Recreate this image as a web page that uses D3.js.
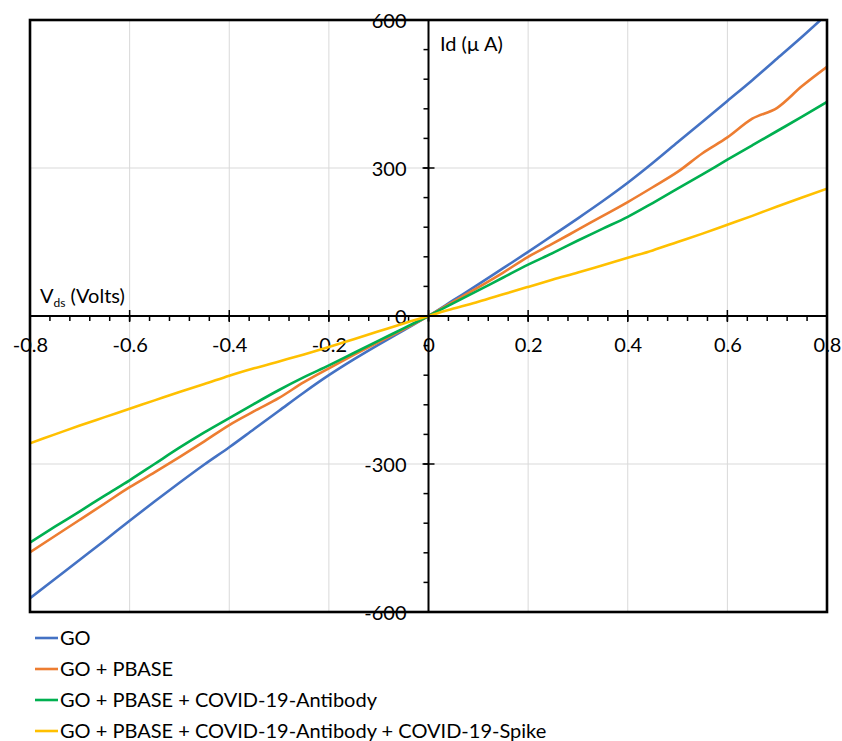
<!DOCTYPE html>
<html>
<head>
<meta charset="utf-8">
<script src="https://cdn.jsdelivr.net/npm/d3@7"></script>
<style>
  body { margin: 0; background: #fff; }
  svg { display: block; font-family: Lato, "Open Sans", sans-serif; }
</style>
</head>
<body>
<svg id="chart" width="842" height="741"></svg>
<script>
// drain-source voltage (V)
const vds = [-0.8, -0.75, -0.7, -0.65, -0.6, -0.55, -0.5, -0.45, -0.4, -0.35, -0.3, -0.25, -0.2, -0.15, -0.1, -0.05,
  0, 0.05, 0.1, 0.15, 0.2, 0.25, 0.3, 0.35, 0.4, 0.45, 0.5, 0.55, 0.6, 0.65, 0.7, 0.75, 0.8]

// drain current (uA), one list per sample
const idGO = [-572, -533, -494, -455, -415, -376, -338, -301, -266, -229, -192, -155, -120, -88, -58, -29,
  0, 32, 64, 97, 130, 164, 198, 233, 270, 310, 352, 394, 436, 478, 522, 566, 612]
const idPBASE = [-479, -446, -413, -380, -347, -317, -286, -254, -221, -193, -166, -134, -106, -79, -53, -27,
  0, 29, 58, 88, 120, 147, 175, 203, 231, 261, 292, 330, 362, 400, 422, 466, 505]
const idAntibody = [-459, -427, -396, -364, -333, -300, -267, -236, -207, -178, -150, -124, -100, -75, -50, -25,
  0, 26, 52, 78, 104, 128, 153, 177, 201, 229, 258, 287, 317, 346, 375, 404, 434]
const idSpike = [-258, -240, -222, -205, -188, -171, -154, -138, -121, -106, -92, -78, -63, -47, -31, -15,
  0, 15, 29, 44, 59, 74, 88, 103, 118, 133, 150, 167, 185, 203, 222, 240, 258]

const seriesNames = ['GO', 'GO + PBASE', 'GO + PBASE + COVID-19-Antibody', 'GO + PBASE + COVID-19-Antibody + COVID-19-Spike']
const seriesColors = ['#4472C4', '#ED7D31', '#00B050', '#FFC000']
const xTicks = [-0.8, -0.6, -0.4, -0.2, 0, 0.2, 0.4, 0.6, 0.8]
const yTicks = [-600, -300, 0, 300, 600]

const series = [idGO, idPBASE, idAntibody, idSpike].map((vals, i) => ({
  name: seriesNames[i],
  color: seriesColors[i],
  values: vals.map((v, j) => ({ x: vds[j], y: v })),
}))

const svg = d3.select('#chart')
const plotLeft = 30, plotRight = 827, plotTop = 20, plotBottom = 612
const fontSize = 20

const x = d3.scaleLinear().domain([-0.8, 0.8]).range([plotLeft, plotRight])
const y = d3.scaleLinear().domain([-600, 600]).range([plotBottom, plotTop])

svg.append('defs').append('clipPath').attr('id', 'plot-clip')
  .append('rect')
  .attr('x', plotLeft).attr('y', plotTop)
  .attr('width', plotRight - plotLeft).attr('height', plotBottom - plotTop)

// gridlines
const grid = svg.append('g').attr('stroke', '#d9d9d9').attr('stroke-width', 1)
grid.selectAll('line.v')
  .data(xTicks.filter((d) => d !== 0 && Math.abs(d) !== 0.8))
  .join('line')
  .attr('x1', (d) => x(d)).attr('x2', (d) => x(d))
  .attr('y1', plotTop).attr('y2', plotBottom)
grid.selectAll('line.h')
  .data(yTicks.filter((d) => d !== 0 && Math.abs(d) !== 600))
  .join('line')
  .attr('x1', plotLeft).attr('x2', plotRight)
  .attr('y1', (d) => y(d)).attr('y2', (d) => y(d))

// axes crossing at the origin
const x0 = x(0), y0 = y(0)
const plain = (d) => String(d)

const xAxis = svg.append('g')
  .attr('transform', `translate(0,${y0})`)
  .call(d3.axisBottom(x).tickValues(xTicks).tickSize(0).tickPadding(22).tickFormat(plain))
xAxis.select('.domain').remove()

const yAxis = svg.append('g')
  .attr('transform', `translate(${x0},0)`)
  .call(d3.axisLeft(y).tickValues(yTicks).tickSize(0).tickPadding(22).tickFormat(plain))
yAxis.select('.domain').remove()

svg.selectAll('.tick text')
  .attr('font-family', 'Lato, "Open Sans", sans-serif')
  .attr('font-size', fontSize)
  .attr('fill', '#000')
yAxis.selectAll('.tick text').attr('dy', '0.36em')

const ticks = svg.append('g').attr('stroke', '#000').attr('stroke-width', 1.5)
// x minor ticks every 0.04
ticks.selectAll('line.xm')
  .data(d3.range(-20, 21).map((i) => i * 0.04))
  .join('line')
  .attr('x1', (d) => x(d)).attr('x2', (d) => x(d))
  .attr('y1', y0).attr('y2', y0 + 5)
ticks.selectAll('line.xM')
  .data(xTicks)
  .join('line')
  .attr('x1', (d) => x(d)).attr('x2', (d) => x(d))
  .attr('y1', y0 - 6).attr('y2', y0 + 6)
// y minor ticks every 60
ticks.selectAll('line.ym')
  .data(d3.range(-10, 11).map((i) => i * 60))
  .join('line')
  .attr('x1', x0 - 5).attr('x2', x0)
  .attr('y1', (d) => y(d)).attr('y2', (d) => y(d))
ticks.selectAll('line.yM')
  .data(yTicks)
  .join('line')
  .attr('x1', x0 - 6).attr('x2', x0 + 6)
  .attr('y1', (d) => y(d)).attr('y2', (d) => y(d))

// data lines
const line = d3.line()
  .x((d) => x(d.x))
  .y((d) => y(d.y))
  .curve(d3.curveMonotoneX)

svg.append('g')
  .attr('clip-path', 'url(#plot-clip)')
  .selectAll('path')
  .data(series)
  .join('path')
  .attr('fill', 'none')
  .attr('stroke', (d) => d.color)
  .attr('stroke-width', 2.6)
  .attr('stroke-linejoin', 'round')
  .attr('d', (d) => line(d.values))

// zero axes and frame
svg.append('line')
  .attr('x1', plotLeft).attr('x2', plotRight).attr('y1', y0).attr('y2', y0)
  .attr('stroke', '#000').attr('stroke-width', 2)
svg.append('line')
  .attr('x1', x0).attr('x2', x0).attr('y1', plotTop).attr('y2', plotBottom)
  .attr('stroke', '#000').attr('stroke-width', 2)
svg.append('rect')
  .attr('x', plotLeft).attr('y', plotTop)
  .attr('width', plotRight - plotLeft).attr('height', plotBottom - plotTop)
  .attr('fill', 'none').attr('stroke', '#000').attr('stroke-width', 2.6)

// axis titles
const vt = svg.append('text')
  .attr('x', 40).attr('y', 303)
  .attr('font-size', fontSize).attr('fill', '#000')
vt.append('tspan').text('V')
vt.append('tspan').attr('font-size', 12).attr('dy', 4).text('ds')
vt.append('tspan').attr('dy', -4).text(' (Volts)')

svg.append('text')
  .attr('x', 440).attr('y', 51)
  .attr('font-size', fontSize).attr('fill', '#000')
  .text('Id (\u03BC A)')

// legend
const legend = svg.append('g')
  .selectAll('g')
  .data(series)
  .join('g')
  .attr('transform', (d, i) => `translate(35,${638 + i * 31})`)
legend.append('line')
  .attr('x1', 0).attr('x2', 23)
  .attr('stroke', (d) => d.color).attr('stroke-width', 2.6)
legend.append('text')
  .attr('x', 25).attr('dy', '0.36em')
  .attr('font-size', fontSize).attr('fill', '#000')
  .text((d) => d.name)
</script>
</body>
</html>
